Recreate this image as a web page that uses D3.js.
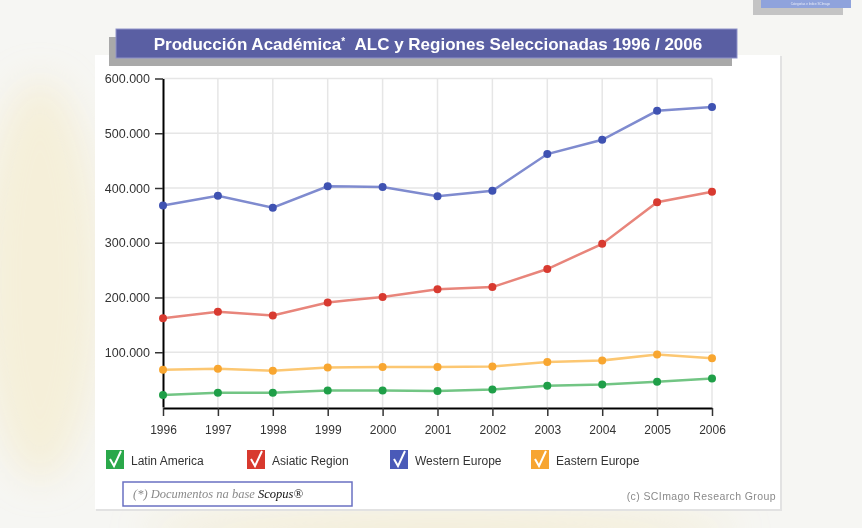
<!DOCTYPE html>
<html>
<head>
<meta charset="utf-8">
<script src="https://cdn.jsdelivr.net/npm/d3@7"></script>
<style>
  body { margin: 0; background: #f6f6f3; }
  svg { display: block; font-family: "Liberation Sans", Arial, sans-serif; }
</style>
</head>
<body>
<svg id="chart" width="862" height="528"></svg>
<script>
// years on the x axis
var years = [1996, 1997, 1998, 1999, 2000, 2001, 2002, 2003, 2004, 2005, 2006];

// documents per year
var latinAmerica   = [22000, 26000, 26000, 30000, 30000, 29000, 32000, 39000, 41000, 46000, 52000];
var asiaticRegion  = [162000, 174000, 167000, 191000, 201000, 215000, 219000, 252000, 298000, 374000, 393000];
var westernEurope  = [368000, 386000, 364000, 403000, 402000, 385000, 395000, 462000, 488000, 541000, 548000];
var easternEurope  = [68000, 70000, 66000, 72000, 73000, 73000, 74000, 82000, 85000, 96000, 89000];

var yTicks = [100000, 200000, 300000, 400000, 500000, 600000];

var seriesNames = ["Latin America", "Asiatic Region", "Western Europe", "Eastern Europe"];
var dotColors   = ["#1f9f48", "#d83a30", "#3f52b2", "#f8a630"];
var lineColors  = ["#72c584", "#e8857b", "#7f8bcf", "#fcc772"];
var boxColors   = ["#2aa84a", "#d8392e", "#4a5ab8", "#f7a531"];

var series = [latinAmerica, asiaticRegion, westernEurope, easternEurope].map(function(vals, i){
  return { name: seriesNames[i], values: vals, dot: dotColors[i], line: lineColors[i], box: boxColors[i] };
});

var svg = d3.select("#chart");

// faint background swooshes (blurred)
var defs = svg.append("defs");
defs.append("filter").attr("id", "blur").append("feGaussianBlur").attr("stdDeviation", 18);
var bg = svg.append("g").attr("filter", "url(#blur)");
bg.append("ellipse").attr("cx", 40).attr("cy", 280).attr("rx", 60).attr("ry", 200)
  .attr("fill", "#f3e7bb").attr("opacity", 0.45);
bg.append("ellipse").attr("cx", 440).attr("cy", 530).attr("rx", 300).attr("ry", 14)
  .attr("fill", "#f1e1a8").attr("opacity", 0.5);

// small banner in the top right corner
svg.append("rect").attr("x", 753).attr("y", -5).attr("width", 90).attr("height", 20).attr("fill", "#c4c4c4");
svg.append("rect").attr("x", 761).attr("y", -5).attr("width", 90).attr("height", 13).attr("fill", "#8fa3dc");
svg.append("text").attr("x", 830).attr("y", 5).attr("text-anchor", "end")
  .attr("font-size", 3).attr("fill", "#e8ecf8").text("Categorías e Índice SCImago");

// white panel
svg.append("rect").attr("x", 96).attr("y", 56).attr("width", 686).attr("height", 455)
  .attr("fill", "#e2e2e2");
svg.append("rect").attr("x", 95).attr("y", 55).attr("width", 685).attr("height", 454)
  .attr("fill", "#ffffff");

// title banner
svg.append("rect").attr("x", 109).attr("y", 37).attr("width", 623).attr("height", 29).attr("fill", "#a9a9a9");
svg.append("rect").attr("x", 116).attr("y", 29).attr("width", 621).attr("height", 29)
  .attr("fill", "#5a5fa3").attr("stroke", "#8f93c9").attr("stroke-width", 1);
var title = svg.append("text").attr("x", 428).attr("y", 50).attr("text-anchor", "middle")
  .attr("fill", "#ffffff").attr("font-size", 17).attr("font-weight", "bold");
title.append("tspan").text("Producción Académica");
title.append("tspan").attr("dy", -5).attr("font-size", 10).text("*");
title.append("tspan").attr("dy", 5).text("\u00a0\u00a0ALC y Regiones Seleccionadas 1996 / 2006");

// scales
var x = d3.scaleLinear().domain([1996, 2006]).range([163, 712]);
var y = d3.scaleLinear().domain([0, 600000]).range([407, 78.5]);

var fmt = d3.formatLocale({ decimal: ",", thousands: ".", grouping: [3], currency: ["", ""] }).format(",");

// grid
var grid = svg.append("g").attr("stroke", "#e6e6e6").attr("stroke-width", 1.5);
grid.selectAll(".h").data(yTicks).enter().append("line")
  .attr("x1", x(1996)).attr("x2", x(2006))
  .attr("y1", function(d){ return y(d); }).attr("y2", function(d){ return y(d); });
grid.selectAll(".v").data(years.slice(1)).enter().append("line")
  .attr("y1", y(600000)).attr("y2", y(0))
  .attr("x1", function(d){ return x(d); }).attr("x2", function(d){ return x(d); });

// axes
var yAxis = d3.axisLeft(y).tickValues(yTicks).tickFormat(fmt).tickSize(8).tickSizeOuter(0).tickPadding(5);
var xAxis = d3.axisBottom(x).tickValues(years).tickFormat(d3.format("d")).tickSize(8).tickSizeOuter(0).tickPadding(9);

var gy = svg.append("g").attr("transform", "translate(" + x(1996) + ",0)").call(yAxis);
var gx = svg.append("g").attr("transform", "translate(0," + (y(0) + 1) + ")").call(xAxis);

[gx, gy].forEach(function(g){
  g.select(".domain").attr("stroke", "#000").attr("stroke-width", 2);
  g.selectAll(".tick line").attr("stroke", "#333").attr("stroke-width", 1.5);
  g.selectAll(".tick text").attr("fill", "#333").attr("font-family", "'Liberation Sans', Arial, sans-serif");
});
gy.selectAll(".tick text").attr("font-size", 12.5);
gx.selectAll(".tick text").attr("font-size", 12);

// lines and dots
var line = d3.line()
  .x(function(d, i){ return x(years[i]); })
  .y(function(d){ return y(d); });

var sg = svg.selectAll(".series").data(series).enter().append("g").attr("class", "series");
sg.append("path")
  .attr("d", function(d){ return line(d.values); })
  .attr("fill", "none")
  .attr("stroke", function(d){ return d.line; })
  .attr("stroke-width", 2.5);
sg.selectAll("circle")
  .data(function(d){ return d.values.map(function(v, i){ return { v: v, i: i, c: d.dot }; }); })
  .enter().append("circle")
  .attr("cx", function(d){ return x(years[d.i]); })
  .attr("cy", function(d){ return y(d.v); })
  .attr("r", 4)
  .attr("fill", function(d){ return d.c; });

// legend
var legendX = [106, 247, 390, 531];
var lg = svg.selectAll(".legend").data(series).enter().append("g")
  .attr("transform", function(d, i){ return "translate(" + legendX[i] + ",450)"; });
lg.append("rect").attr("width", 18).attr("height", 19)
  .attr("fill", function(d){ return d.box; });
lg.append("path").attr("d", "M4,9 L8,16 L15,1")
  .attr("fill", "none").attr("stroke", "#fff").attr("stroke-width", 2);
lg.append("text").attr("x", 25).attr("y", 15)
  .attr("font-size", 12).attr("fill", "#333")
  .text(function(d){ return d.name; });

// footnote
svg.append("rect").attr("x", 123).attr("y", 482).attr("width", 229).attr("height", 24)
  .attr("fill", "#fff").attr("stroke", "#6a70c2").attr("stroke-width", 1.5);
var note = svg.append("text").attr("x", 133).attr("y", 498)
  .attr("font-family", "'Liberation Serif', 'DejaVu Serif', serif")
  .attr("font-style", "italic").attr("font-size", 12.5);
note.append("tspan").attr("fill", "#8a8a8a").text("(*) Documentos na base ");
note.append("tspan").attr("fill", "#111").text("Scopus®");

svg.append("text").attr("x", 776).attr("y", 500).attr("text-anchor", "end")
  .attr("font-size", 10.5).attr("fill", "#8a8a8a").attr("letter-spacing", 0.4)
  .text("(c) SCImago Research Group");
</script>
</body>
</html>
